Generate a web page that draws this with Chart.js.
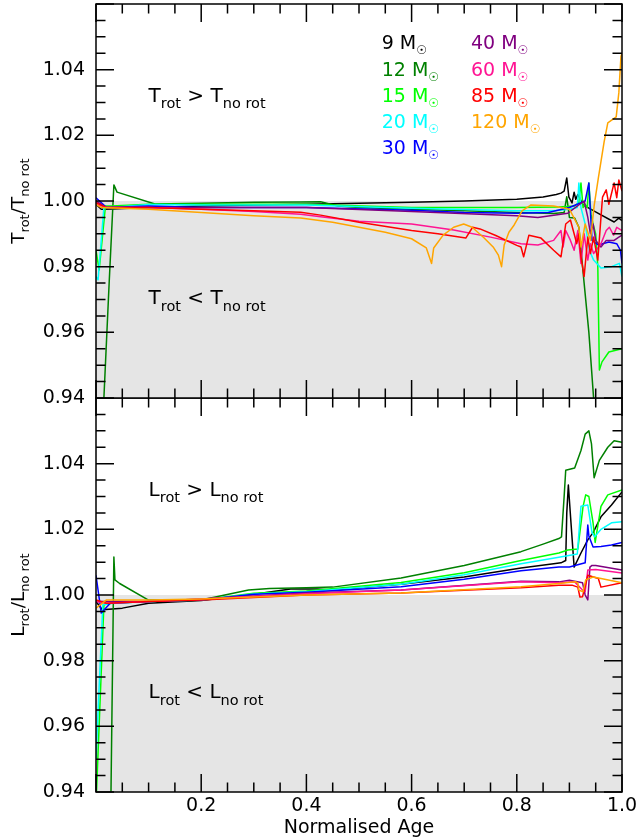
<!DOCTYPE html>
<html>
<head>
<meta charset="utf-8">
<script src="https://cdn.jsdelivr.net/npm/chart.js@4.4.0/dist/chart.umd.min.js"></script>
<style>
  html, body { margin: 0; padding: 0; background: #fff; }
  #wrap { position: relative; width: 639px; height: 840px; }
  #wrap canvas { position: absolute; left: 0; top: 0; }
</style>
</head>
<body>
<div id="wrap">
  <canvas id="lumChart" width="639" height="840"></canvas>
  <canvas id="tempChart" width="639" height="840"></canvas>
</div>
<script>
// rotating / non-rotating model ratios against normalised age, one line per initial mass

const massLabels = ['9', '12', '15', '20', '30', '40', '60', '85', '120'];
const lineColours = ['#000000', '#008000', '#00ff00', '#00ffff', '#0000ff', '#800080', '#ff1493', '#ff0000', '#ffa500'];

// Teff ratio (upper panel)
const tAge9 = [0, 0.01, 0.03, 0.1, 0.2, 0.3, 0.4, 0.5, 0.6, 0.7, 0.8, 0.85, 0.875, 0.884, 0.89, 0.895, 0.899, 0.905, 0.909, 0.912, 0.916, 0.926, 0.954, 0.985, 0.994, 1.0];
const tVal9 = [0.999, 0.9975, 0.9976, 0.998, 0.9985, 0.9988, 0.999, 0.9993, 0.9996, 1.0, 1.0005, 1.0012, 1.002, 1.0024, 1.003, 1.007, 1.0012, 0.9994, 1.0027, 1.0005, 1.002, 0.9988, 0.9963, 0.9936, 0.9948, 0.994];

const tAge12 = [0, 0.015, 0.025, 0.034, 0.04, 0.112, 0.2, 0.3, 0.389, 0.427, 0.46, 0.5, 0.6, 0.7, 0.8, 0.87, 0.89, 0.895, 0.9, 0.91, 0.918, 0.928, 0.937, 0.946, 0.952];
const tVal12 = [0.90, 0.94, 0.975, 1.0049, 1.0027, 0.9991, 0.9993, 0.9996, 0.9997, 0.9998, 0.9985, 0.998, 0.9975, 0.997, 0.9965, 0.9962, 0.9965, 1.0013, 0.995, 0.9948, 0.992, 0.975, 0.96, 0.94, 0.93];

const tAge15 = [0, 0.006, 0.018, 0.03, 0.1, 0.2, 0.4, 0.6, 0.8, 0.88, 0.91, 0.918, 0.922, 0.926, 0.93, 0.934, 0.937, 0.941, 0.945, 0.95, 0.954, 0.957, 0.962, 0.975, 1.0];
const tVal15 = [0.985, 0.979, 0.9985, 0.9985, 0.999, 0.999, 0.999, 0.998, 0.998, 0.9982, 0.9985, 0.9995, 1.0055, 0.998, 0.999, 0.998, 1.0055, 0.996, 0.993, 0.99, 0.98, 0.9485, 0.951, 0.954, 0.955];

const tAge20 = [0, 0.004, 0.015, 0.03, 0.1, 0.2, 0.4, 0.6, 0.8, 0.87, 0.9, 0.915, 0.918, 0.922, 0.93, 0.938, 0.946, 0.96, 0.98, 0.995, 1.0];
const tVal20 = [0.977, 0.976, 0.998, 0.998, 0.9989, 0.9988, 0.9988, 0.9978, 0.997, 0.997, 0.9975, 0.998, 1.0055, 0.998, 0.993, 0.985, 0.982, 0.9796, 0.980, 0.981, 0.977];

const tAge30 = [0, 0.02, 0.1, 0.2, 0.4, 0.6, 0.7, 0.8, 0.86, 0.9, 0.93, 0.937, 0.943, 0.955, 0.975, 0.99, 0.997, 1.0];
const tVal30 = [1.001, 0.998, 0.9985, 0.998, 0.998, 0.9972, 0.9965, 0.9963, 0.9965, 0.998, 1.0, 1.0055, 0.988, 0.9866, 0.9875, 0.987, 0.985, 0.981];

const tAge40 = [0, 0.02, 0.1, 0.2, 0.4, 0.6, 0.8, 0.84, 0.897, 0.928, 0.935, 0.94, 0.945, 0.95, 0.96, 0.97, 0.985, 0.994, 1.0];
const tVal40 = [1.0, 0.998, 0.998, 0.998, 0.998, 0.9968, 0.9955, 0.995, 0.9963, 1.0, 0.995, 0.99, 0.993, 0.988, 0.986, 0.988, 0.988, 0.989, 0.9896];

const tAge60 = [0, 0.02, 0.1, 0.2, 0.3, 0.389, 0.427, 0.5, 0.6, 0.68, 0.75, 0.808, 0.84, 0.87, 0.884, 0.888, 0.893, 0.902, 0.909, 0.916, 0.922, 0.928, 0.935, 0.94, 0.946, 0.96, 0.97, 0.976, 0.984, 0.99, 1.0];
const tVal60 = [0.999, 0.998, 0.998, 0.9975, 0.9968, 0.996, 0.9952, 0.9938, 0.993, 0.9912, 0.989, 0.987, 0.9866, 0.988, 0.991, 0.986, 0.991, 0.988, 0.985, 0.991, 0.981, 0.99, 0.982, 0.987, 0.984, 0.987, 0.991, 0.992, 0.9896, 0.992, 0.991];

const tAge85 = [0, 0.02, 0.1, 0.2, 0.3, 0.389, 0.427, 0.5, 0.6, 0.65, 0.703, 0.716, 0.73, 0.76, 0.8, 0.808, 0.813, 0.823, 0.846, 0.87, 0.884, 0.893, 0.902, 0.914, 0.918, 0.922, 0.928, 0.935, 0.94, 0.946, 0.954, 0.96, 0.963, 0.97, 0.975, 0.985, 0.99, 0.994, 1.0];
const tVal85 = [0.9995, 0.998, 0.998, 0.9975, 0.997, 0.9966, 0.9957, 0.9935, 0.991, 0.99, 0.9887, 0.992, 0.9915, 0.9895, 0.9865, 0.986, 0.983, 0.9896, 0.9887, 0.985, 0.983, 0.993, 0.9942, 0.987, 0.99, 0.983, 0.977, 0.989, 0.984, 0.989, 0.982, 0.995, 1.0012, 1.0034, 0.999, 1.0055, 1.001, 1.0064, 1.003];

const tAge120 = [0, 0.01, 0.1, 0.2, 0.3, 0.389, 0.45, 0.5, 0.55, 0.6, 0.628, 0.638, 0.642, 0.66, 0.68, 0.699, 0.715, 0.737, 0.755, 0.765, 0.771, 0.776, 0.785, 0.795, 0.81, 0.827, 0.87, 0.9, 0.918, 0.922, 0.93, 0.94, 0.947, 0.955, 0.966, 0.973, 0.989, 0.994, 0.998, 1.0];
const tVal120 = [0.999, 0.998, 0.9975, 0.9965, 0.9955, 0.9948, 0.9935, 0.992, 0.9905, 0.9885, 0.9857, 0.981, 0.9857, 0.9896, 0.992, 0.993, 0.992, 0.9889, 0.986, 0.9835, 0.980, 0.9866, 0.9905, 0.9927, 0.997, 0.9988, 0.9985, 0.9975, 0.992, 0.986, 0.993, 0.988, 0.9985, 1.007, 1.018, 1.0238, 1.0256, 1.033, 1.044, 1.045];

// luminosity ratio (lower panel)
const lAge9 = [0, 0.012, 0.05, 0.1, 0.2, 0.29, 0.37, 0.42, 0.45, 0.58, 0.7, 0.808, 0.87, 0.884, 0.893, 0.895, 0.898, 0.903, 0.909, 0.922, 0.935, 0.945, 0.96, 0.98, 1.0];
const lVal9 = [0.998, 0.9955, 0.996, 0.9975, 0.9983, 1.0, 1.0018, 1.0018, 1.0015, 1.0033, 1.0055, 1.0082, 1.0095, 1.0098, 1.0105, 1.025, 1.0335, 1.022, 1.0085, 1.0128, 1.0168, 1.019, 1.0238, 1.0274, 1.0314];

const lAge12 = [0, 0.02, 0.0285, 0.034, 0.036, 0.045, 0.099, 0.2, 0.29, 0.33, 0.4, 0.45, 0.58, 0.7, 0.808, 0.85, 0.88, 0.885, 0.89, 0.893, 0.91, 0.922, 0.93, 0.937, 0.942, 0.947, 0.957, 0.973, 0.985, 1.0];
const lVal12 = [0.90, 0.92, 0.94, 1.0116, 1.0046, 1.0035, 0.9985, 0.9985, 1.0015, 1.002, 1.0022, 1.0024, 1.0052, 1.009, 1.0132, 1.0155, 1.0172, 1.0177, 1.03, 1.038, 1.0387, 1.044, 1.049, 1.050, 1.046, 1.0357, 1.041, 1.045, 1.047, 1.0465];

const lAge15 = [0, 0.015, 0.03, 0.1, 0.2, 0.3, 0.4, 0.58, 0.7, 0.808, 0.88, 0.897, 0.916, 0.926, 0.931, 0.937, 0.945, 0.949, 0.96, 0.973, 1.0];
const lVal15 = [0.936, 0.997, 0.9975, 0.998, 0.9985, 1.0005, 1.0012, 1.0038, 1.0068, 1.0105, 1.0128, 1.0137, 1.014, 1.027, 1.0305, 1.030, 1.022, 1.016, 1.027, 1.0305, 1.032];

const lAge20 = [0, 0.004, 0.013, 0.03, 0.1, 0.2, 0.3, 0.4, 0.58, 0.7, 0.808, 0.88, 0.915, 0.922, 0.935, 0.943, 0.948, 0.96, 0.98, 1.0];
const lVal20 = [0.95, 0.965, 0.997, 0.9975, 0.998, 0.9985, 1.0003, 1.001, 1.0033, 1.0062, 1.0095, 1.0115, 1.0125, 1.027, 1.0274, 1.019, 1.0177, 1.02, 1.022, 1.0223];

const lAge30 = [0, 0.01, 0.027, 0.1, 0.2, 0.3, 0.4, 0.58, 0.7, 0.808, 0.88, 0.9, 0.93, 0.935, 0.937, 0.945, 0.96, 0.98, 1.0];
const lVal30 = [1.006, 0.9945, 0.9975, 0.998, 0.9985, 1.0002, 1.0008, 1.0025, 1.0048, 1.0074, 1.0085, 1.0085, 1.0098, 1.0213, 1.018, 1.0146, 1.0148, 1.0152, 1.016];

const lAge40 = [0, 0.02, 0.1, 0.2, 0.4, 0.58, 0.808, 0.88, 0.9, 0.925, 0.93, 0.935, 0.939, 0.943, 0.95, 1.0];
const lVal40 = [0.998, 0.998, 0.998, 0.9988, 1.0006, 1.0015, 1.0042, 1.004, 1.0045, 1.0037, 1.0, 0.9985, 1.0085, 1.009, 1.009, 1.0076];

const lAge60 = [0, 0.02, 0.1, 0.2, 0.4, 0.58, 0.808, 0.88, 0.91, 0.925, 0.93, 0.935, 0.95, 1.0];
const lVal60 = [0.998, 0.9975, 0.998, 0.9988, 1.0004, 1.0015, 1.004, 1.0037, 1.004, 1.0015, 1.001, 1.0076, 1.0078, 1.0067];

const lAge85 = [0, 0.02, 0.1, 0.2, 0.4, 0.58, 0.808, 0.88, 0.905, 0.916, 0.92, 0.925, 0.935, 0.955, 0.96, 1.0];
const lVal85 = [0.9985, 0.9975, 0.998, 0.9985, 1.0, 1.0006, 1.0022, 1.003, 1.003, 1.0024, 0.9994, 0.9995, 1.006, 1.005, 1.0024, 1.0037];

const lAge120 = [0, 0.02, 0.1, 0.2, 0.4, 0.58, 0.808, 0.88, 0.912, 0.916, 0.918, 0.926, 0.931, 0.945, 0.96, 1.0];
const lVal120 = [0.996, 0.9985, 0.9985, 0.9988, 1.0, 1.0006, 1.0025, 1.0035, 1.004, 1.0037, 1.0015, 1.001, 1.0046, 1.0055, 1.005, 1.0037];

// grey band: ratio below unity
const shadeAge = [0, 1];
const shadeLevel = [1, 1];

// tick values
const ageTicks = [0.2, 0.4, 0.6, 0.8, 1.0];
const ratioTicks = [0.94, 0.96, 0.98, 1.00, 1.02, 1.04];

const tempSeries = [[tAge9, tVal9], [tAge12, tVal12], [tAge15, tVal15], [tAge20, tVal20], [tAge30, tVal30],
  [tAge40, tVal40], [tAge60, tVal60], [tAge85, tVal85], [tAge120, tVal120]];
const lumSeries = [[lAge9, lVal9], [lAge12, lVal12], [lAge15, lVal15], [lAge20, lVal20], [lAge30, lVal30],
  [lAge40, lVal40], [lAge60, lVal60], [lAge85, lVal85], [lAge120, lVal120]];

const FONT = '"DejaVu Sans"';
Chart.defaults.font.family = FONT;
Chart.defaults.font.size = 19;
Chart.defaults.color = '#000';

function points(ages, vals) {
  return ages.map((a, i) => ({ x: a, y: vals[i] }));
}

function buildDatasets(list) {
  const sets = list.map(([ages, vals], i) => ({
    label: massLabels[i] + ' M\u2609',
    data: points(ages, vals),
    borderColor: lineColours[i],
    borderWidth: 1.5,
    borderJoinStyle: 'round',
    pointRadius: 0,
    tension: 0,
    fill: false,
    order: list.length - i   // later masses drawn on top
  }));
  sets.push({
    label: 'below unity',
    data: points(shadeAge, shadeLevel),
    borderColor: 'rgba(0,0,0,0)',
    borderWidth: 1,
    backgroundColor: '#e5e5e5',
    pointRadius: 0,
    fill: 'start',
    order: 100
  });
  return sets;
}

// draws a run of text pieces (main text + subscripts) starting at x
function drawRuns(ctx, x, y, runs) {
  for (const r of runs) {
    ctx.font = r.size + 'px ' + FONT;
    ctx.fillText(r.text, x, y + (r.dy || 0));
    x += ctx.measureText(r.text).width;
  }
  return x;
}
function runsWidth(ctx, runs) {
  let w = 0;
  for (const r of runs) {
    ctx.font = r.size + 'px ' + FONT;
    w += ctx.measureText(r.text).width;
  }
  return w;
}

function ratioRuns(sym, op, big, small, dy) {
  return [{ text: sym, size: big }, { text: 'rot', size: small, dy }, { text: op, size: big },
    { text: sym, size: big }, { text: 'no rot', size: small, dy }];
}

// frame with inward major/minor ticks on every side
const frameTicks = {
  id: 'frameTicks',
  afterDatasetsDraw(chart) {
    const { ctx, chartArea: a, scales } = chart;
    const major = 18, minor = 9.5;
    ctx.save();
    ctx.strokeStyle = '#000';
    ctx.lineWidth = 1.5;
    ctx.beginPath();
    for (let i = 0; i <= 20; i++) {
      const px = scales.x.getPixelForValue(i * 0.05);
      const len = i % 4 === 0 ? major : minor;
      ctx.moveTo(px, a.bottom); ctx.lineTo(px, a.bottom - len);
      ctx.moveTo(px, a.top); ctx.lineTo(px, a.top + len);
    }
    for (let j = 0; j <= 24; j++) {
      const py = scales.y.getPixelForValue(0.94 + j * 0.005);
      const len = j % 4 === 0 ? major : minor;
      ctx.moveTo(a.left, py); ctx.lineTo(a.left + len, py);
      ctx.moveTo(a.right, py); ctx.lineTo(a.right - len, py);
    }
    ctx.stroke();
    ctx.strokeRect(a.left, a.top, a.right - a.left, a.bottom - a.top);
    ctx.restore();
  }
};

// panel texts: rotated axis title, region labels and optional mass key
function panelText(sym, showKey) {
  return {
    id: 'panelText',
    afterDraw(chart) {
      const { ctx, chartArea: a, scales } = chart;
      ctx.save();
      ctx.fillStyle = '#000';
      ctx.textBaseline = 'alphabetic';
      ctx.textAlign = 'left';

      // y title
      const title = [{ text: sym, size: 18.5 }, { text: 'rot', size: 13, dy: 5 }, { text: '/', size: 18.5 },
        { text: sym, size: 18.5 }, { text: 'no rot', size: 13, dy: 5 }];
      const tw = runsWidth(ctx, title);
      ctx.save();
      ctx.translate(24, (a.top + a.bottom) / 2 + tw / 2);
      ctx.rotate(-Math.PI / 2);
      drawRuns(ctx, 0, 0, title);
      ctx.restore();

      // region labels
      const lx = scales.x.getPixelForValue(0.1);
      drawRuns(ctx, lx, scales.y.getPixelForValue(1.0302), ratioRuns(sym, ' > ', 20, 14.5, 6.5));
      drawRuns(ctx, lx, scales.y.getPixelForValue(0.9685), ratioRuns(sym, ' < ', 20, 14.5, 6.5));

      // mass key
      if (showKey) {
        massLabels.forEach((m, i) => {
          const col = i < 5 ? 0 : 1;
          const row = i < 5 ? i : i - 5;
          const x = a.left + (col === 0 ? 285.7 : 375);
          const y = a.top + 45.3 + row * 26.2;
          ctx.fillStyle = lineColours[i];
          drawRuns(ctx, x, y, [{ text: m + ' M', size: 19 }, { text: '\u2609', size: 12, dy: 5 }]);
        });
      }
      ctx.restore();
    }
  };
}

function panelOptions(padTop, padBottom, showAge) {
  return {
    responsive: false,
    animation: false,
    devicePixelRatio: 1,
    layout: { padding: { top: padTop, bottom: padBottom, left: 0, right: 17 } },
    plugins: { legend: { display: false }, tooltip: { enabled: false } },
    scales: {
      x: {
        type: 'linear',
        min: 0,
        max: 1,
        display: showAge,
        grid: { drawOnChartArea: false, drawTicks: false },
        border: { display: false },
        afterBuildTicks: s => { s.ticks = ageTicks.map(v => ({ value: v })); },
        ticks: { padding: 3, callback: v => v.toFixed(1) },
        title: { display: true, text: 'Normalised Age', padding: { top: 0, bottom: 1 } },
        afterFit: s => { s.height = showAge ? 48 : 0; s.paddingLeft = 0; s.paddingRight = 0; }
      },
      y: {
        type: 'linear',
        min: 0.94,
        max: 1.06,
        grid: { drawOnChartArea: false, drawTicks: false },
        border: { display: false },
        afterBuildTicks: s => { s.ticks = ratioTicks.map(v => ({ value: v })); },
        ticks: { padding: 11, callback: v => v.toFixed(2) },
        afterFit: s => { s.width = 96; s.paddingTop = 0; s.paddingBottom = 0; }
      }
    }
  };
}

new Chart(document.getElementById('lumChart'), {
  type: 'line',
  data: { datasets: buildDatasets(lumSeries) },
  options: panelOptions(398, 0, true),
  plugins: [frameTicks, panelText('L', false)]
});

new Chart(document.getElementById('tempChart'), {
  type: 'line',
  data: { datasets: buildDatasets(tempSeries) },
  options: panelOptions(4, 442, false),
  plugins: [frameTicks, panelText('T', true)]
});
</script>
</body>
</html>
